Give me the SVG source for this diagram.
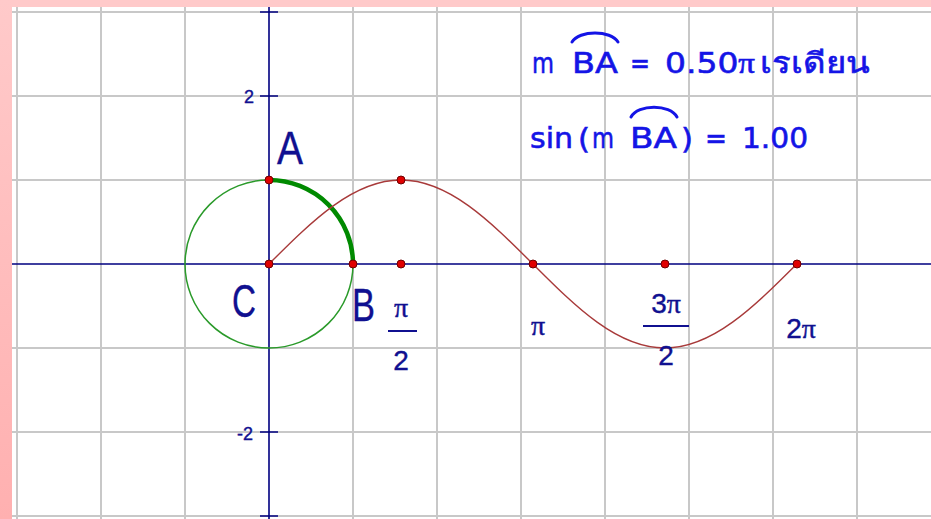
<svg xmlns="http://www.w3.org/2000/svg" width="931" height="519" viewBox="0 0 931 519">
<defs>
<linearGradient id="pk" x1="0" y1="0" x2="0" y2="1">
<stop offset="0" stop-color="#ffcaca"/>
<stop offset="1" stop-color="#ffb0b0"/>
</linearGradient>
<style>
.grid{stroke:#c8c8c8;stroke-width:2;fill:none}
.axis{stroke:#000080;stroke-width:1.6;fill:none}
.pt{fill:#e00000;stroke:#700000;stroke-width:1}
.lbl{font-family:"Liberation Sans","DejaVu Sans",sans-serif;fill:#101090;stroke:#101090;stroke-width:0.4}
.pi{font-family:"Liberation Serif","DejaVu Serif",serif}
.blue{font-family:"DejaVu Sans","Liberation Sans",sans-serif;fill:#1414e6;stroke:#1414e6;stroke-width:0.6;font-size:29px}
.arcm{stroke:#1414e6;stroke-width:3;fill:none;stroke-linecap:round}
</style>
</defs>
<rect width="931" height="519" fill="#ffffff"/>
<rect x="0" y="0" width="931" height="7" fill="#ffcaca"/>
<rect x="0" y="0" width="12" height="519" fill="url(#pk)"/>
<g id="grid">
<path class="grid" d="M17,7V519M101,7V519M185,7V519M353,7V519M437,7V519M521,7V519M605,7V519M689,7V519M773,7V519M857,7V519"/>
<path class="grid" d="M12,12H931M12,96H931M12,180H931M12,348H931M12,432H931M12,516H931"/>
</g>
<g id="axes">
<path class="axis" d="M12,264H931M269,7V519"/>
<path class="axis" d="M260,12H278M260,96H278M260,432H278M260,516H278"/>
<text class="lbl" x="244" y="103" font-size="18">2</text>
<text class="lbl" x="237" y="440" font-size="18">-2</text>
</g>
<g id="circle">
<circle cx="269" cy="264" r="84" fill="none" stroke="#2a9a2a" stroke-width="1.5"/>
<path d="M269,180A84,84 0 0 1 353,264" fill="none" stroke="#008a00" stroke-width="4.5"/>
</g>
<g id="sine">
<path d="M269,264C312.03,220.97 353.19,180 400.95,180C448.71,180 489.86,220.97 532.89,264C575.92,307.03 617.08,348 664.84,348C712.6,348 753.76,307.03 796.79,264" fill="none" stroke="#a83a3a" stroke-width="1.4"/>
</g>
<g id="points">
<circle class="pt" cx="269" cy="264" r="4"/>
<circle class="pt" cx="269" cy="180" r="4"/>
<circle class="pt" cx="353" cy="264" r="4"/>
<circle class="pt" cx="401" cy="180" r="4"/>
<circle class="pt" cx="401" cy="264" r="4"/>
<circle class="pt" cx="533" cy="264" r="4"/>
<circle class="pt" cx="665" cy="264" r="4"/>
<circle class="pt" cx="797" cy="264" r="4"/>
</g>
<g id="labels">
<text class="lbl" x="277" y="164" font-size="46" textLength="26" lengthAdjust="spacingAndGlyphs">A</text>
<text class="lbl" x="232" y="317" font-size="46" textLength="24" lengthAdjust="spacingAndGlyphs">C</text>
<text class="lbl" x="352" y="321" font-size="46" textLength="23" lengthAdjust="spacingAndGlyphs">B</text>
<text class="lbl pi" x="401" y="317" font-size="28" text-anchor="middle">π</text>
<path d="M388,331H417" stroke="#101090" stroke-width="2"/>
<text class="lbl" x="401" y="370" font-size="28" text-anchor="middle">2</text>
<text class="lbl pi" x="538" y="335" font-size="28" text-anchor="middle">π</text>
<text class="lbl" x="666" y="313" font-size="28" text-anchor="middle">3<tspan class="pi">π</tspan></text>
<path d="M643,326H689" stroke="#101090" stroke-width="2"/>
<text class="lbl" x="666" y="365" font-size="28" text-anchor="middle">2</text>
<text class="lbl" x="801" y="338" font-size="28" text-anchor="middle">2<tspan class="pi">π</tspan></text>
</g>
<g id="measure">
<text class="blue" x="532" y="73" textLength="22" lengthAdjust="spacingAndGlyphs">m</text>
<text class="blue" x="572" y="73" textLength="46" lengthAdjust="spacingAndGlyphs">BA</text>
<path class="arcm" d="M572,42C579,30 611,30 618,42"/>
<text class="blue" x="630" y="73" textLength="20" lengthAdjust="spacingAndGlyphs">=</text>
<text class="blue" x="665" y="73" textLength="90" lengthAdjust="spacingAndGlyphs">0.50<tspan class="pi">π</tspan></text>
<text class="blue" x="760" y="73" textLength="110" lengthAdjust="spacingAndGlyphs">เรเดียน</text>
<text class="blue" x="530" y="148" textLength="43" lengthAdjust="spacingAndGlyphs">sin</text>
<text class="blue" x="578" y="149" font-size="52" textLength="12" lengthAdjust="spacingAndGlyphs">(</text>
<text class="blue" x="592" y="148" textLength="22" lengthAdjust="spacingAndGlyphs">m</text>
<text class="blue" x="630" y="148" textLength="47" lengthAdjust="spacingAndGlyphs">BA</text>
<path class="arcm" d="M631,117C638,104 670,104 677,117"/>
<text class="blue" x="681" y="149" font-size="52" textLength="12" lengthAdjust="spacingAndGlyphs">)</text>
<text class="blue" x="705" y="148" textLength="22" lengthAdjust="spacingAndGlyphs">=</text>
<text class="blue" x="742" y="148" textLength="66" lengthAdjust="spacingAndGlyphs">1.00</text>
</g>
</svg>
